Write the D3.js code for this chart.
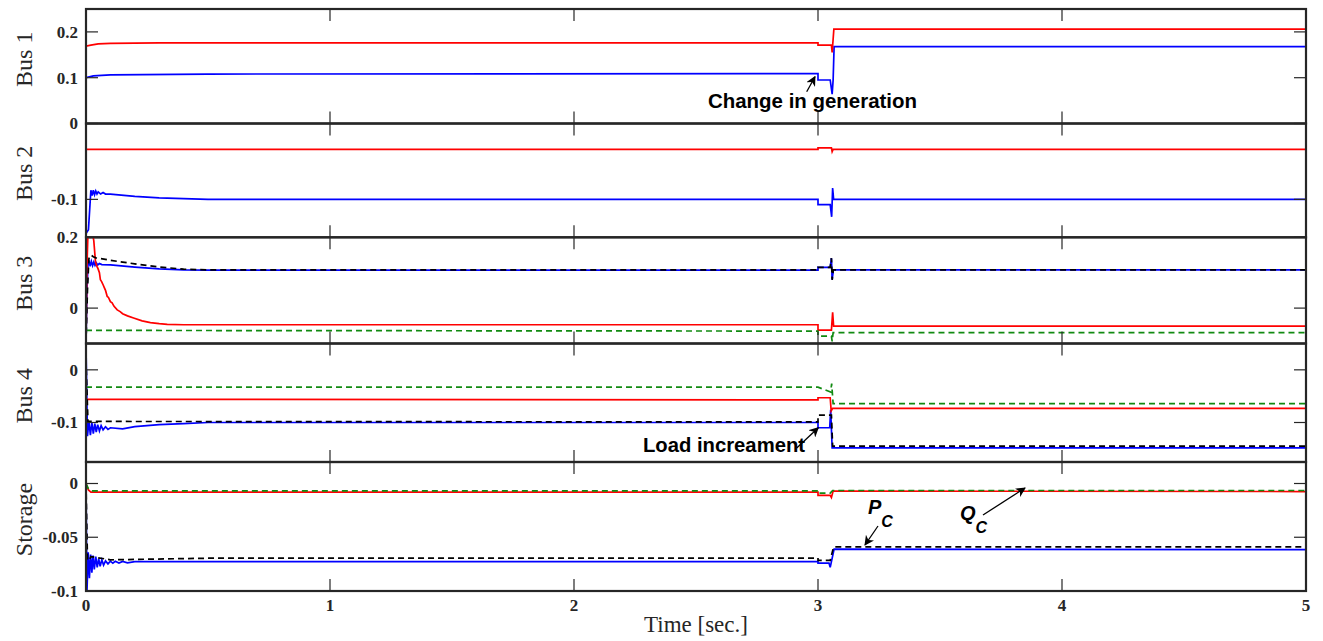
<!DOCTYPE html>
<html>
<head>
<meta charset="utf-8">
<script src="https://cdn.jsdelivr.net/npm/d3@7"></script>
<style>
  body { margin: 0; background: #fff; }
  svg { display: block; }
</style>
</head>
<body>
<svg id="chart" width="1323" height="641"></svg>
<script>
// time axis
var xTicks = [0, 1, 2, 3, 4, 5];

// Bus 1
var bus1Ticks = [0, 0.1, 0.2];
var bus1Labels = ["0", "0.1", "0.2"];
var bus1Red = [[0, 0.189], [0, 0.169], [0.02, 0.171], [0.05, 0.174], [0.1, 0.175], [0.3, 0.176], [3.0, 0.176],
  [3.0, 0.171], [3.055, 0.171], [3.058, 0.155], [3.065, 0.206], [5, 0.206]];
var bus1Blue = [[0, 0.115], [0, 0.1], [0.03, 0.104], [0.1, 0.106], [0.5, 0.108], [3.0, 0.109],
  [3.0, 0.095], [3.05, 0.095], [3.058, 0.064], [3.062, 0.095], [3.066, 0.168], [5, 0.168]];

// Bus 2
var bus2Ticks = [-0.1];
var bus2Labels = ["-0.1"];
var bus2Red = [[0, -0.034], [3.0, -0.034], [3.0, -0.032], [3.055, -0.032], [3.058, -0.037], [3.062, -0.034], [5, -0.034]];
var bus2Blue = [[0, -0.145], [0.01, -0.14], [0.02, -0.088], [0.025, -0.095], [0.03, -0.088], [0.035, -0.094],
  [0.04, -0.089], [0.045, -0.093], [0.05, -0.09], [0.06, -0.093], [0.07, -0.091], [0.08, -0.093], [0.1, -0.093],
  [0.2, -0.096], [0.3, -0.098], [0.5, -0.1], [3.0, -0.1], [3.0, -0.107], [3.05, -0.107], [3.056, -0.123],
  [3.06, -0.085], [3.064, -0.1], [5, -0.1]];

// Bus 3
var bus3Ticks = [0, 0.2];
var bus3Labels = ["0", "0.2"];
var bus3Red = [[0, -0.1], [0.004, 0.12], [0.008, 0.21], [0.014, 0.23], [0.02, 0.205], [0.026, 0.215], [0.032, 0.19],
  [0.039, 0.13], [0.045, 0.118], [0.05, 0.11], [0.055, 0.1], [0.059, 0.08], [0.064, 0.075], [0.07, 0.066],
  [0.075, 0.058], [0.08, 0.05], [0.087, 0.033], [0.092, 0.03], [0.1, 0.018], [0.107, 0.015], [0.115, 0.005],
  [0.128, -0.005], [0.14, -0.01], [0.15, -0.016], [0.17, -0.022], [0.195, -0.028], [0.23, -0.036], [0.264, -0.041],
  [0.3, -0.044], [0.333, -0.046], [0.4, -0.047], [0.5, -0.047], [3.0, -0.047], [3.0, -0.062], [3.055, -0.062],
  [3.06, -0.012], [3.064, -0.051], [5, -0.051]];
var bus3Blue = [[0, -0.1], [0.004, 0.05], [0.008, 0.12], [0.012, 0.135], [0.017, 0.118], [0.022, 0.132], [0.027, 0.12],
  [0.032, 0.13], [0.037, 0.121], [0.042, 0.128], [0.048, 0.122], [0.055, 0.126], [0.065, 0.123], [0.1, 0.122],
  [0.2, 0.116], [0.3, 0.111], [0.4, 0.108], [0.5, 0.107], [3.0, 0.107], [3.0, 0.115], [3.05, 0.115], [3.055, 0.141],
  [3.058, 0.08], [3.063, 0.108], [5, 0.108]];
var bus3Black = [[0, -0.1], [0.006, 0.05], [0.012, 0.14], [0.02, 0.15], [0.03, 0.145], [0.04, 0.142], [0.06, 0.14],
  [0.1, 0.135], [0.2, 0.125], [0.3, 0.116], [0.4, 0.11], [0.5, 0.108], [3.0, 0.108], [3.0, 0.115], [3.05, 0.115],
  [3.055, 0.141], [3.058, 0.08], [3.063, 0.108], [5, 0.108]];
var bus3Green = [[0, -0.063], [3.0, -0.065], [3.0, -0.079], [3.055, -0.079], [3.058, -0.094], [3.062, -0.069], [5, -0.069]];

// Bus 4
var bus4Ticks = [0, -0.1];
var bus4Labels = ["0", "-0.1"];
var bus4Red = [[0, -0.056], [3.0, -0.057], [3.0, -0.053], [3.05, -0.053], [3.054, -0.078], [3.06, -0.073], [5, -0.073]];
var bus4Blue = [[0, 0.045], [0.006, -0.126], [0.012, -0.098], [0.018, -0.124], [0.024, -0.1], [0.03, -0.121],
  [0.036, -0.102], [0.042, -0.118], [0.048, -0.104], [0.055, -0.116], [0.062, -0.106], [0.07, -0.114], [0.08, -0.108],
  [0.09, -0.113], [0.1, -0.11], [0.15, -0.112], [0.2, -0.108], [0.3, -0.104], [0.4, -0.102], [0.5, -0.1], [3.0, -0.1],
  [3.0, -0.11], [3.048, -0.11], [3.052, -0.076], [3.058, -0.148], [5, -0.148]];
var bus4Black = [[0, 0.02], [0.008, -0.098], [3.0, -0.099], [3.0, -0.086], [3.055, -0.086], [3.06, -0.145], [5, -0.145]];
var bus4Green = [[0, -0.033], [3.0, -0.033], [3.052, -0.042], [3.056, -0.026], [3.062, -0.064], [5, -0.064]];

// Storage
var storTicks = [0, -0.05, -0.1];
var storLabels = ["0", "-0.05", "-0.1"];
var storRed = [[0, 0], [0.01, -0.006], [0.02, -0.008], [3.0, -0.008], [3.0, -0.011], [3.05, -0.011], [3.055, -0.013],
  [3.062, -0.007], [5, -0.0075]];
var storGreen = [[0, 0], [0.01, -0.005], [0.02, -0.0068], [3.0, -0.0068], [3.0, -0.009], [3.05, -0.009], [3.06, -0.0065], [5, -0.0065]];
var storBlue = [[0, 0], [0.004, -0.1], [0.009, -0.064], [0.014, -0.088], [0.019, -0.066], [0.024, -0.083], [0.029, -0.067],
  [0.034, -0.08], [0.04, -0.068], [0.046, -0.078], [0.052, -0.07], [0.058, -0.077], [0.065, -0.071], [0.072, -0.076],
  [0.08, -0.072], [0.09, -0.0748], [0.1, -0.0722], [0.11, -0.0742], [0.12, -0.0724], [0.135, -0.074], [0.15, -0.0725],
  [0.17, -0.0738], [0.2, -0.0727], [3.0, -0.0727], [3.0, -0.074], [3.045, -0.074], [3.05, -0.078], [3.066, -0.061], [5, -0.0615]];
var storBlack = [[0, 0], [0.006, -0.07], [0.012, -0.072], [0.02, -0.068], [0.1, -0.071], [0.5, -0.0695], [3.0, -0.0694],
  [3.0, -0.0715], [3.05, -0.0715], [3.064, -0.059], [5, -0.059]];

var panelNames = ["Bus 1", "Bus 2", "Bus 3", "Bus 4", "Storage"];
var panelDomains = [[0, 0.25], [-0.15, 0], [-0.1, 0.2], [-0.175, 0.05], [-0.1, 0.02]];

// layout
var left = 86, right = 1306;
var edges = [9, 123.5, 237.3, 343.5, 462, 591];
var tickLen = 12;

var svg = d3.select("#chart");
var x = d3.scaleLinear().domain([0, 5]).range([left, right]);

var panels = [
  { ticks: bus1Ticks, labels: bus1Labels, series: [[bus1Blue, "blue"], [bus1Red, "red"]] },
  { ticks: bus2Ticks, labels: bus2Labels, series: [[bus2Blue, "blue"], [bus2Red, "red"]] },
  { ticks: bus3Ticks, labels: bus3Labels, series: [[bus3Blue, "blue"], [bus3Red, "red"], [bus3Black, "black"], [bus3Green, "green"]] },
  { ticks: bus4Ticks, labels: bus4Labels, series: [[bus4Blue, "blue"], [bus4Red, "red"], [bus4Black, "black"], [bus4Green, "green"]] },
  { ticks: storTicks, labels: storLabels, series: [[storBlue, "blue"], [storRed, "red"], [storBlack, "black"], [storGreen, "green"]] }
];

var colors = { blue: "#0000ff", red: "#ff0000", black: "#000000", green: "#118a11" };
var dashed = { black: true, green: true };

panels.forEach(function(p, i) {
  var top = edges[i], bot = edges[i + 1];
  var y = d3.scaleLinear().domain(panelDomains[i]).range([bot, top]);
  var g = svg.append("g");

  g.append("clipPath").attr("id", "clip" + i)
    .append("rect").attr("x", left).attr("y", top).attr("width", right - left).attr("height", bot - top);

  var line = d3.line().x(function(d) { return x(d[0]); }).y(function(d) { return y(d[1]); });
  var lines = g.append("g").attr("clip-path", "url(#clip" + i + ")");
  p.series.forEach(function(s) {
    lines.append("path").attr("d", line(s[0]))
      .attr("fill", "none")
      .attr("stroke", colors[s[1]])
      .attr("stroke-width", 1.7)
      .attr("stroke-dasharray", dashed[s[1]] ? "6,4" : null);
  });

  // y ticks both sides
  p.ticks.forEach(function(t, k) {
    var yy = y(t);
    g.append("line").attr("x1", left).attr("x2", left + tickLen).attr("y1", yy).attr("y2", yy)
      .attr("stroke", "#262626").attr("stroke-width", 1.2);
    g.append("line").attr("x1", right).attr("x2", right - tickLen).attr("y1", yy).attr("y2", yy)
      .attr("stroke", "#262626").attr("stroke-width", 1.2);
    g.append("text").text(p.labels[k])
      .attr("x", 78).attr("y", yy).attr("dy", "0.35em")
      .attr("text-anchor", "end")
      .style("font-family", "'Liberation Serif', 'Times New Roman', serif")
      .style("font-weight", "bold").style("font-size", "17px").style("fill", "#262626");
  });

  // x ticks top and bottom of every panel
  xTicks.slice(1, -1).forEach(function(t) {
    g.append("line").attr("x1", x(t)).attr("x2", x(t)).attr("y1", top).attr("y2", top + tickLen)
      .attr("stroke", "#262626").attr("stroke-width", 1.2);
    g.append("line").attr("x1", x(t)).attr("x2", x(t)).attr("y1", bot).attr("y2", bot - tickLen)
      .attr("stroke", "#262626").attr("stroke-width", 1.2);
  });

  g.append("rect").attr("x", left).attr("y", top).attr("width", right - left).attr("height", bot - top)
    .attr("fill", "none").attr("stroke", "#262626").attr("stroke-width", 2.2);

  var cy = (top + bot) / 2 - 7;
  g.append("text").text(panelNames[i])
    .attr("transform", "translate(32," + cy + ") rotate(-90)")
    .attr("text-anchor", "middle")
    .style("font-family", "'Liberation Serif', 'Times New Roman', serif")
    .style("font-size", "24px").style("fill", "#262626");
});

// x tick labels
xTicks.forEach(function(t) {
  svg.append("text").text(t).attr("x", x(t)).attr("y", 611)
    .attr("text-anchor", "middle")
    .style("font-family", "'Liberation Serif', 'Times New Roman', serif")
    .style("font-weight", "bold").style("font-size", "17px").style("fill", "#262626");
});

svg.append("text").text("Time [sec.]").attr("x", 696).attr("y", 632)
  .attr("text-anchor", "middle")
  .style("font-family", "'Liberation Serif', 'Times New Roman', serif")
  .style("font-size", "23px").style("fill", "#262626");

// annotations
var defs = svg.append("defs");
defs.append("marker").attr("id", "head").attr("viewBox", "0 0 10 10")
  .attr("refX", 9).attr("refY", 5).attr("markerWidth", 10).attr("markerHeight", 10)
  .attr("markerUnits", "userSpaceOnUse").attr("orient", "auto")
  .append("path").attr("d", "M0,0 L10,5 L0,10 L3,5 Z").attr("fill", "#000");

function arrow(x1, y1, x2, y2) {
  svg.append("line").attr("x1", x1).attr("y1", y1).attr("x2", x2).attr("y2", y2)
    .attr("stroke", "#000").attr("stroke-width", 1.3).attr("marker-end", "url(#head)");
}

function note(txt, xx, yy, w) {
  svg.append("text").text(txt).attr("x", xx).attr("y", yy)
    .attr("textLength", w).attr("lengthAdjust", "spacingAndGlyphs")
    .style("font-family", "'Liberation Sans', Arial, sans-serif")
    .style("font-weight", "bold").style("font-size", "21px").style("fill", "#000");
}

note("Change in generation", 708, 108, 209);
arrow(806.7, 91.7, 815, 76.7);
note("Load increament", 643, 452, 162);
arrow(796.7, 448, 818.3, 427.7);

function sub(main, s, xx, yy) {
  var t = svg.append("text").attr("x", xx).attr("y", yy)
    .style("font-family", "'Liberation Sans', Arial, sans-serif")
    .style("font-weight", "bold").style("font-style", "italic").style("fill", "#000");
  t.append("tspan").text(main).style("font-size", "20px");
  t.append("tspan").text(s).attr("dx", 0).attr("dy", 13).style("font-size", "16px");
}

sub("P", "C", 868, 514);
arrow(878, 526, 865, 545);
sub("Q", "C", 960, 520);
arrow(983, 515, 1025, 488);
</script>
</body>
</html>
